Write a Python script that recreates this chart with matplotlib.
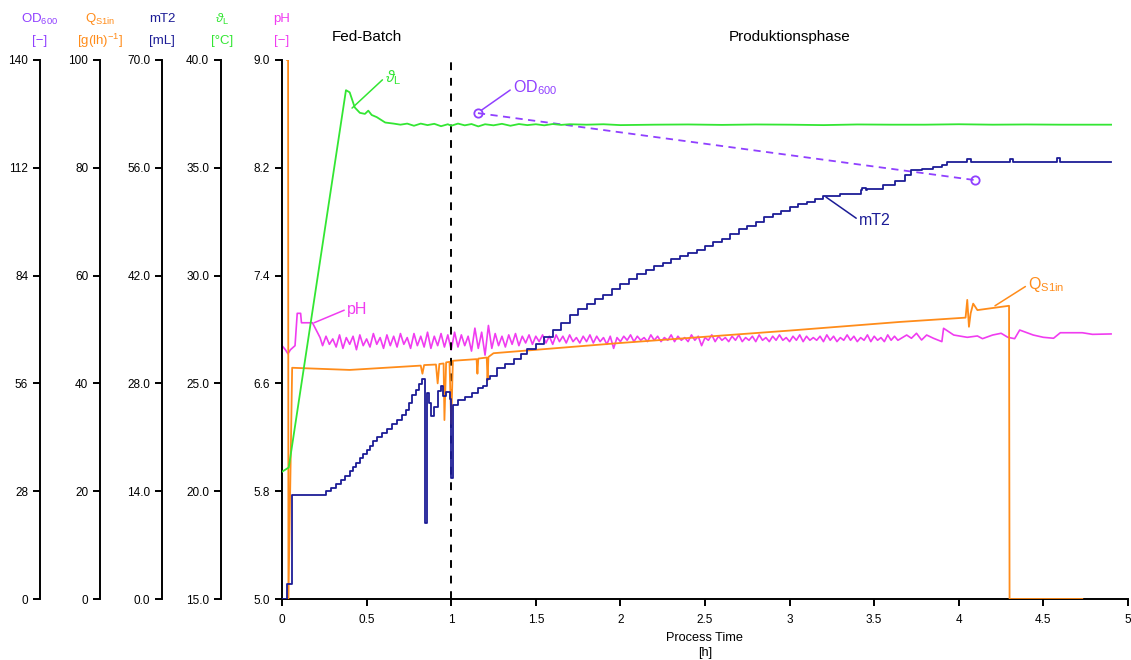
import numpy as np
import matplotlib.pyplot as plt
from matplotlib.ticker import FormatStrFormatter

plt.rcParams['font.family'] = ['Liberation Sans', 'DejaVu Sans']
plt.rcParams['mathtext.fontset'] = 'custom'
plt.rcParams['mathtext.rm'] = 'Liberation Sans'
plt.rcParams['mathtext.it'] = 'Liberation Sans:italic'
plt.rcParams['mathtext.bf'] = 'Liberation Sans:bold'

# colours of the five signals
c_od = '#9040ff'
c_q = '#ff8c1a'
c_mt2 = '#1c1c96'
c_temp = '#33e633'
c_ph = '#f03cf0'

# --- data -------------------------------------------------------------
# temperature theta_L [degC]
temp_t = [0.0, 0.04, 0.378, 0.40, 0.43, 0.46, 0.49, 0.51, 0.53, 0.56,
          0.61, 0.66, 0.70, 0.74, 0.78, 0.82, 0.86, 0.90, 0.94, 0.98,
          1.0, 1.04, 1.08, 1.12, 1.16, 1.2, 1.25, 1.3, 1.35, 1.4,
          1.45, 1.5, 1.55, 1.6, 1.65, 1.7, 1.8, 1.9, 2.0, 2.2,
          2.4, 2.6, 2.8, 3.0, 3.2, 3.4, 3.6, 3.8, 4.0, 4.2,
          4.4, 4.6, 4.9]
temp_v = [20.9, 21.1, 38.6, 38.5, 37.8, 37.55, 37.5, 37.65, 37.45, 37.35,
          37.1, 37.05, 37.0, 37.05, 36.95, 37.05, 36.98, 37.04, 36.93, 37.02,
          36.95, 37.05, 36.97, 37.03, 36.92, 37.02, 36.97, 37.04, 36.95, 37.03,
          36.98, 37.02, 36.97, 37.03, 36.99, 37.02, 37.0, 37.02, 36.98, 37.0,
          37.01, 36.99, 37.01, 37.0, 36.98, 37.01, 37.0, 37.0, 37.02, 37.0,
          37.01, 37.0, 37.0]

# pH: start-up, oscillating control phase (logged every 0.02 h), late phase
ph_start_t = [0.0, 0.02, 0.035, 0.05, 0.077, 0.09, 0.11, 0.115, 0.18, 0.225]
ph_start_v = [6.88, 6.85, 6.82, 6.85, 6.88, 7.12, 7.12, 7.05, 7.05, 6.94]
ph_osc = [6.88, 6.95, 6.89, 6.93, 6.87, 6.96, 6.86, 6.94, 6.89, 6.95,
          6.85, 6.96, 6.88, 6.93, 6.87, 6.97, 6.89, 6.94, 6.86, 6.96,
          6.88, 6.95, 6.87, 6.97, 6.89, 6.94, 6.86, 6.97, 6.88, 6.95,
          6.87, 6.98, 6.86, 6.95, 6.88, 6.97, 6.87, 6.96, 6.85, 6.98,
          6.87, 6.96, 6.88, 6.95, 6.84, 7.01, 6.86, 6.98, 6.81, 7.03,
          6.86, 6.97, 6.88, 6.95, 6.87, 6.96, 6.89, 6.97, 6.88, 6.95,
          6.90, 6.96, 6.89, 6.95, 6.91, 6.96, 6.90, 6.95, 6.89, 6.96,
          6.91, 6.95, 6.90, 6.96, 6.91, 6.94, 6.90, 6.95, 6.91, 6.96,
          6.90, 6.95, 6.91, 6.94, 6.89, 6.95, 6.86, 6.94, 6.91, 6.95,
          6.92, 6.96, 6.91, 6.95, 6.92, 6.94, 6.91, 6.96, 6.92, 6.95,
          6.91, 6.94, 6.92, 6.96, 6.91, 6.95, 6.92, 6.94, 6.91, 6.96,
          6.92, 6.95, 6.88, 6.94, 6.92, 6.96, 6.91, 6.95, 6.92, 6.94,
          6.91, 6.95, 6.92, 6.96, 6.91, 6.94, 6.92, 6.95, 6.91, 6.96,
          6.92, 6.94, 6.91, 6.95, 6.92, 6.96, 6.92, 6.94, 6.91, 6.95,
          6.92, 6.96, 6.91, 6.95, 6.92, 6.94, 6.92, 6.95, 6.91, 6.96,
          6.92, 6.95, 6.91, 6.94, 6.92, 6.96, 6.92, 6.95, 6.91, 6.94,
          6.92, 6.96, 6.91, 6.95, 6.92, 6.94, 6.91, 6.96, 6.92, 6.95,
          6.92]
ph_osc_t = np.linspace(0.24, 3.64, len(ph_osc))
ph_end_t = [3.692, 3.72, 3.75, 3.78, 3.81, 3.85, 3.90, 3.91, 3.97, 4.05,
            4.11, 4.14, 4.20, 4.25, 4.29, 4.33, 4.36, 4.44, 4.50, 4.56,
            4.60, 4.73, 4.79, 4.90]
ph_end_v = [6.959, 6.935, 6.972, 6.922, 6.959, 6.935, 6.910, 7.009, 6.959, 6.942,
            6.952, 6.932, 6.959, 6.972, 6.942, 6.932, 6.996, 6.959, 6.942, 6.935,
            6.976, 6.976, 6.964, 6.967]

# substrate feed Q_S1in [g/(l h)]
q_t = [0.03, 0.036, 0.038, 0.06, 0.4, 0.82, 0.83, 0.84, 0.91, 0.92,
       0.93, 0.955, 0.96, 0.97, 0.99, 1.0, 1.01, 1.15, 1.155, 1.16,
       1.21, 1.215, 1.22, 1.25, 2.0, 3.0, 3.65, 4.04, 4.05, 4.06,
       4.07, 4.085, 4.11, 4.297, 4.30, 4.73]
q_v = [100.0, 100.0, 0.0, 42.9, 42.5, 43.3, 41.8, 43.4, 43.5, 40.0,
       43.6, 43.7, 33.2, 43.9, 44.0, 32.5, 44.2, 44.5, 41.8, 44.6,
       44.8, 40.6, 44.9, 45.6, 47.5, 49.8, 51.4, 52.2, 55.5, 50.5,
       53.0, 54.8, 53.6, 54.4, 0.0, 0.0]

# titrant volume mT2 [mL], logged as a staircase
mt2_t = [0.0, 0.03, 0.06, 0.26, 0.29, 0.32, 0.35, 0.37, 0.40, 0.42,
         0.44, 0.46, 0.48, 0.50, 0.52, 0.54, 0.56, 0.59, 0.62, 0.65,
         0.68, 0.71, 0.73, 0.75, 0.77, 0.79, 0.81, 0.83, 0.845, 0.855,
         0.87, 0.88, 0.90, 0.92, 0.94, 0.95, 0.97, 0.99, 1.0, 1.01,
         1.04, 1.08, 1.12, 1.16, 1.19, 1.21, 1.23, 1.27, 1.32, 1.37,
         1.41, 1.45, 1.5, 1.55, 1.6, 1.65, 1.7, 1.75, 1.8, 1.85,
         1.9, 1.95, 2.0, 2.05, 2.1, 2.15, 2.2, 2.25, 2.3, 2.35,
         2.4, 2.45, 2.5, 2.55, 2.6, 2.65, 2.7, 2.75, 2.8, 2.85,
         2.9, 2.95, 3.0, 3.05, 3.1, 3.15, 3.2, 3.3, 3.42, 3.43,
         3.45, 3.46, 3.55, 3.62, 3.68, 3.72, 3.78, 3.85, 3.9, 3.93,
         4.05, 4.07, 4.3, 4.32, 4.58, 4.6, 4.9]
mt2_v = [0.0, 2.0, 13.5, 14.0, 14.4, 14.9, 15.5, 16.0, 16.6, 17.1,
         17.7, 18.3, 18.8, 19.4, 19.9, 20.5, 21.0, 21.6, 22.1, 22.7,
         23.3, 23.9, 24.6, 25.5, 26.5, 27.2, 27.9, 28.6, 9.9, 26.8,
         25.5, 23.8, 25.0, 27.0, 27.6, 26.3, 26.9, 26.0, 15.7, 25.2,
         25.8, 26.2, 26.8, 27.4, 27.6, 28.6, 29.0, 30.0, 30.5, 31.2,
         31.8, 32.5, 33.1, 34.0, 35.0, 35.8, 36.9, 37.7, 38.3, 39.0,
         39.5, 40.2, 40.9, 41.6, 42.2, 42.7, 43.3, 43.7, 44.1, 44.5,
         44.9, 45.3, 45.8, 46.3, 46.8, 47.4, 48.0, 48.5, 49.0, 49.6,
         50.0, 50.4, 50.9, 51.3, 51.6, 52.0, 52.4, 52.6, 53.1, 53.4,
         53.1, 53.3, 53.8, 54.3, 55.1, 55.7, 55.8, 56.1, 56.4, 56.8,
         57.2, 56.8, 57.1, 56.8, 57.3, 56.8, 56.8]

# optical density samples
od_t = [1.158, 4.096]
od_v = [126.2, 108.8]

# --- figure -----------------------------------------------------------
fig = plt.figure(figsize=(11.31, 6.6), dpi=100)
ax = fig.add_axes([282 / 1131, 61 / 660, 846 / 1131, 539 / 660])
ax.set_xlim(0, 5)
ax.set_ylim(5, 9)
ax.patch.set_visible(False)
for s in ['top', 'right']:
    ax.spines[s].set_visible(False)
for s in ['left', 'bottom']:
    ax.spines[s].set_linewidth(1.4)
ax.set_yticks([5.0, 5.8, 6.6, 7.4, 8.2, 9.0])
ax.yaxis.set_major_formatter(FormatStrFormatter('%.1f'))
xt = np.arange(0, 5.01, 0.5)
ax.set_xticks(xt)
ax.set_xticklabels(['%g' % v for v in xt])
ax.tick_params(axis='both', length=5, width=1.4, labelsize=8.5)
ax.tick_params(axis='x', pad=6)
ax.set_xlabel('Process Time\n[h]', fontsize=9.2, labelpad=4, linespacing=1.3)


def side_axis(offset_px, lim, ticks, fmt):
    a = ax.twinx()
    a.set_ylim(*lim)
    a.patch.set_visible(False)
    for s in ['top', 'right', 'bottom']:
        a.spines[s].set_visible(False)
    a.spines['left'].set_visible(True)
    a.spines['left'].set_position(('outward', offset_px * 0.72))
    a.spines['left'].set_linewidth(1.4)
    a.yaxis.set_ticks_position('left')
    a.yaxis.set_label_position('left')
    a.set_yticks(ticks)
    a.yaxis.set_major_formatter(FormatStrFormatter(fmt))
    a.tick_params(axis='y', length=5, width=1.4, labelsize=8.5)
    return a


ax_od = side_axis(242, (0, 140), [0, 28, 56, 84, 112, 140], '%d')
ax_q = side_axis(182, (0, 100), [0, 20, 40, 60, 80, 100], '%d')
ax_mt2 = side_axis(120, (0, 70), [0, 14, 28, 42, 56, 70], '%.1f')
ax_temp = side_axis(61, (15, 40), [15, 20, 25, 30, 35, 40], '%.1f')

# curves
ax.plot(ph_start_t + list(ph_osc_t) + ph_end_t, ph_start_v + ph_osc + ph_end_v,
        color=c_ph, lw=1.2)
ax_q.plot(q_t, q_v, color=c_q, lw=1.3)
ax_mt2.plot(mt2_t, mt2_v, color=c_mt2, lw=1.3, drawstyle='steps-post')
ax_temp.plot(temp_t, temp_v, color=c_temp, lw=1.3)
ax_od.plot(od_t, od_v, color=c_od, lw=1.3, ls=(0, (4, 3)),
           marker='o', ms=6, mfc='none', mew=1.3)

# phase separator
ax.axvline(1.0, color='black', lw=1.4, ls=(0, (4, 4)))
ax.text(0.5, 1.043, 'Fed-Batch', transform=ax.get_xaxis_transform(),
        ha='center', va='center', fontsize=11)
ax.text(3.0, 1.043, 'Produktionsphase', transform=ax.get_xaxis_transform(),
        ha='center', va='center', fontsize=11)

# curve labels with leader lines
def tag(a, xy, xytext, txt, col):
    a.annotate(txt, xy=xy, xytext=xytext, color=col, fontsize=11.5,
               ha='left', va='center',
               arrowprops=dict(arrowstyle='-', color=col, lw=1.1,
                               shrinkA=0, shrinkB=0, relpos=(0, 0.5)))


tag(ax_temp, (0.414, 37.77), (0.61, 39.2), r'$\vartheta_\mathrm{L}$', c_temp)
tag(ax_od, (1.18, 127.0), (1.365, 132.7), r'OD$_\mathrm{600}$', c_od)
tag(ax_mt2, (3.215, 52.2), (3.41, 49.2), 'mT2', c_mt2)
tag(ax_q, (4.214, 54.4), (4.41, 58.3), r'Q$_\mathrm{S1in}$', c_q)
tag(ax, (0.19, 7.05), (0.384, 7.152), 'pH', c_ph)

# axis headers
heads = [(40, r'OD$_\mathrm{600}$', '[−]', c_od),
         (100, r'Q$_\mathrm{S1in}$', r'[g(lh)$^\mathrm{-1}$]', c_q),
         (162, 'mT2', '[mL]', c_mt2),
         (222, r'$\vartheta_\mathrm{L}$', '[°C]', c_temp),
         (282, 'pH', '[−]', c_ph)]
for px, top, unit, col in heads:
    fig.text(px / 1131, 1 - 19 / 660, top, color=col, ha='center',
             va='center', fontsize=9.5)
    fig.text(px / 1131, 1 - 41 / 660, unit, color=col, ha='center',
             va='center', fontsize=9.5)

fig.savefig('out.png', dpi=100)
